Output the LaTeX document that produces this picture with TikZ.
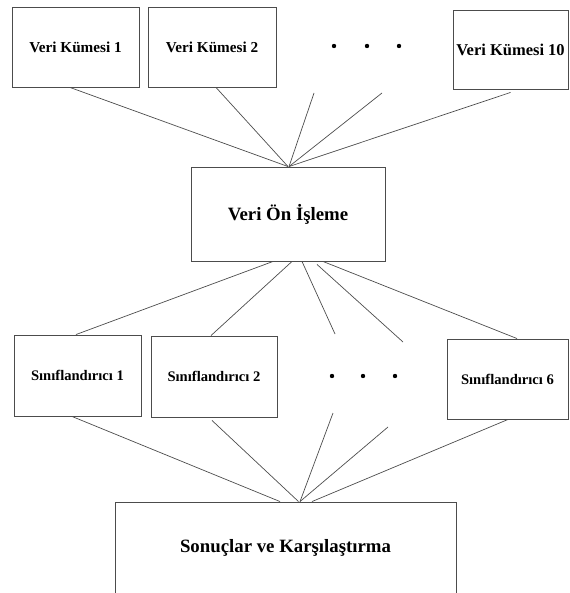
\documentclass[tikz,border=0pt]{standalone}
\usepackage{fontspec}
\setmainfont{Liberation Serif}

\begin{document}
\begin{tikzpicture}[x=1pt, y=-1pt,
	box/.style={draw=black!70, line width=0.9pt, inner sep=0pt, font=\bfseries\fontsize{15.2}{18}\selectfont},
	clsbox/.style={box, font=\bfseries\fontsize{14.6}{17}\selectfont},
	bigbox/.style={box, font=\bfseries\fontsize{18.8}{22}\selectfont},
	link/.style={black!70, line width=0.7pt}]

		\useasboundingbox (0, 0) rectangle (569, 593);
		\clip (0, 0) rectangle (569, 593);

		% data sets
		\node[box, minimum width=127pt, minimum height=80pt] (vk1) at (75.5, 47) {Veri Kümesi 1};
		\node[box, minimum width=128pt, minimum height=80pt] (vk2) at (212, 47) {Veri Kümesi 2};
		\node[box, minimum width=115pt, minimum height=79pt, font=\bfseries\fontsize{16.5}{19}\selectfont] (vk10) at (510.5, 49.5) {Veri Kümesi 10};
		\foreach \x in {334, 367, 399} \fill (\x, 46) circle (2.2pt); % dots

		% preprocessing
		\node[bigbox, minimum width=194pt, minimum height=94pt] (prep) at (288, 214) {Veri Ön İşleme};

		% classifiers
		\node[clsbox, minimum width=127pt, minimum height=81pt] (cls1) at (77.5, 375.5) {Sınıflandırıcı 1};
		\node[clsbox, minimum width=126pt, minimum height=81pt] (cls2) at (214, 376.5) {Sınıflandırıcı 2};
		\node[clsbox, minimum width=121pt, minimum height=80pt] (cls6) at (507.5, 379) {Sınıflandırıcı 6};
		\foreach \x in {332, 363, 395} \fill (\x, 376) circle (2.2pt); % dots

		% results
		\node[bigbox, minimum width=341pt, minimum height=92pt] (res) at (285.5, 548) {Sonuçlar ve Karşılaştırma};

		% free ends near the dots
		\coordinate (d1) at (314, 93);
		\coordinate (d2) at (382, 93);
		\coordinate (d3) at (335, 334);
		\coordinate (d4) at (403, 342);
		\coordinate (d5) at (333, 413);
		\coordinate (d6) at (388, 427);

		% data sets -> preprocessing
		\draw[link] ([xshift=-5.5pt]vk1.south) -- (prep.north);
		\draw[link] ([xshift=4pt]vk2.south) -- (prep.north);
		\draw[link] (d1) -- ([xshift=1pt]prep.north);
		\draw[link] (d2) -- ([xshift=1pt]prep.north);
		\draw[link] ([yshift=-3pt]vk10.south) -- ([xshift=1pt]prep.north);

		% preprocessing -> classifiers
		\draw[link] ([xshift=-15pt]prep.south) -- ([xshift=-1.5pt]cls1.north);
		\draw[link] ([xshift=4pt]prep.south) -- ([xshift=-3pt]cls2.north);
		\draw[link] ([xshift=14pt]prep.south) -- (d3);
		\draw[link] ([xshift=29pt, yshift=-3pt]prep.south) -- (d4);
		\draw[link] ([xshift=35pt]prep.south) -- ([xshift=9.5pt]cls6.north);

		% classifiers -> results
		\draw[link] ([xshift=-5.5pt]cls1.south) -- ([xshift=-5.5pt]res.north);
		\draw[link] ([xshift=-2pt, yshift=-3pt]cls2.south) -- ([xshift=13pt]res.north);
		\draw[link] (d5) -- ([xshift=14.5pt]res.north);
		\draw[link] (d6) -- ([xshift=14.5pt]res.north);
		\draw[link] ([xshift=0.5pt]cls6.south) -- ([xshift=26.5pt]res.north);

\end{tikzpicture}
\end{document}
